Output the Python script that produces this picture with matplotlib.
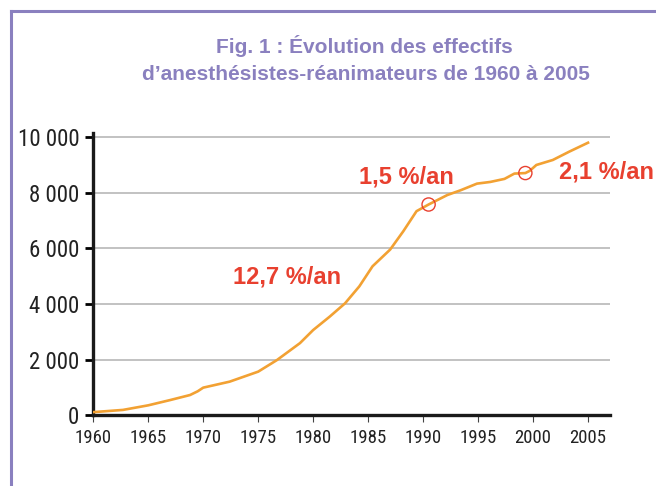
import matplotlib
matplotlib.use("Agg")
import matplotlib.pyplot as plt
from matplotlib import font_manager
from matplotlib.lines import Line2D

# Effectifs
years = [1960, 1962.7, 1965, 1967, 1968.8, 1969.5, 1970, 1972.4, 1975, 1976.7,
         1978.8, 1980, 1981.5, 1982.9, 1984.2, 1985.4, 1987, 1988.2, 1989.4,
         1990.5, 1992.2, 1993.4, 1994.9, 1996.1, 1997.4, 1998.3, 1999.3,
         1999.7, 2000.3, 2001.8, 2003.3, 2005]
effectifs = [120, 200, 365, 555, 735, 870, 1000, 1215, 1575, 1990,
             2600, 3070, 3550, 4030, 4640, 5360, 5960, 6620, 7340,
             7580, 7920, 8090, 8330, 8390, 8500, 8690, 8710,
             8790, 9000, 9180, 9480, 9800]

circle_years = [1990.5, 1999.3]
circle_vals = [7580, 8710]

labels = ["12,7 %/an", "1,5 %/an", "2,1 %/an"]
label_pos = [(1977.6, 4970), (1988.5, 8560), (2006.7, 8740)]

xticks = list(range(1960, 2006, 5))
yticks = [0, 2000, 4000, 6000, 8000, 10000]
ytick_labels = ["0", "2 000", "4 000", "6 000", "8 000", "10 000"]

purple = "#8a80bf"
red = "#e8402f"

# police étroite si disponible
installed = {f.name for f in font_manager.fontManager.ttflist}
narrow = "Liberation Sans"
for name in ["Liberation Sans Narrow", "Roboto Condensed", "Open Sans Condensed"]:
    if name in installed:
        narrow = name
        break
tick_fam = [narrow, "DejaVu Sans"]
bold_fam = ["Liberation Sans", "DejaVu Sans"]

fig = plt.figure(figsize=(6.56, 4.86), dpi=100)
ax = fig.add_axes([0.1422, 0.1451, 0.7877, 0.5813])

ax.plot(years, effectifs, color="#f2a133", lw=1.9, zorder=3)
ax.scatter(circle_years, circle_vals, s=90, facecolors="none",
           edgecolors=red, linewidths=1.0, zorder=4)

for txt, (x, y) in zip(labels, label_pos):
    ax.text(x, y, txt, color=red, fontsize=17, fontweight="bold",
            family=bold_fam, ha="center", va="center")

ax.set_xlim(1960, 2007)
ax.set_ylim(0, 10150)
ax.set_xticks(xticks)
ax.set_xticklabels([str(t) for t in xticks], family=tick_fam, fontsize=13.5,
                   color="#222222")
ax.set_yticks(yticks)
ax.set_yticklabels(ytick_labels, family=tick_fam, fontsize=16.5,
                   color="#222222")
ax.tick_params(axis="y", length=6, width=2, direction="out", pad=4)
ax.tick_params(axis="x", length=5, width=0.8, direction="out", pad=5,
               color="#444444")

ax.grid(axis="y", color="#bdbdbd", lw=1.3)
ax.set_axisbelow(True)
for side in ["top", "right"]:
    ax.spines[side].set_visible(False)
for side in ["left", "bottom"]:
    ax.spines[side].set_linewidth(2.4)
    ax.spines[side].set_color("#1a1a1a")

# Titre
fig.text(0.556, 0.905, "Fig. 1 : Évolution des effectifs", color=purple,
         fontsize=15, fontweight="bold", family=bold_fam,
         ha="center", va="center")
fig.text(0.558, 0.847, "d’anesthésistes-réanimateurs de 1960 à 2005",
         color=purple, fontsize=15, fontweight="bold",
         family=bold_fam, ha="center", va="center")

# Cadre violet
x0, y0 = 11 / 656, 1 - 11 / 486
fig.add_artist(Line2D([x0, 1], [y0, y0], color=purple, lw=2.2,
                      transform=fig.transFigure))
fig.add_artist(Line2D([x0, x0], [0, y0], color=purple, lw=2.2,
                      transform=fig.transFigure))

fig.savefig("out.png", dpi=100)
